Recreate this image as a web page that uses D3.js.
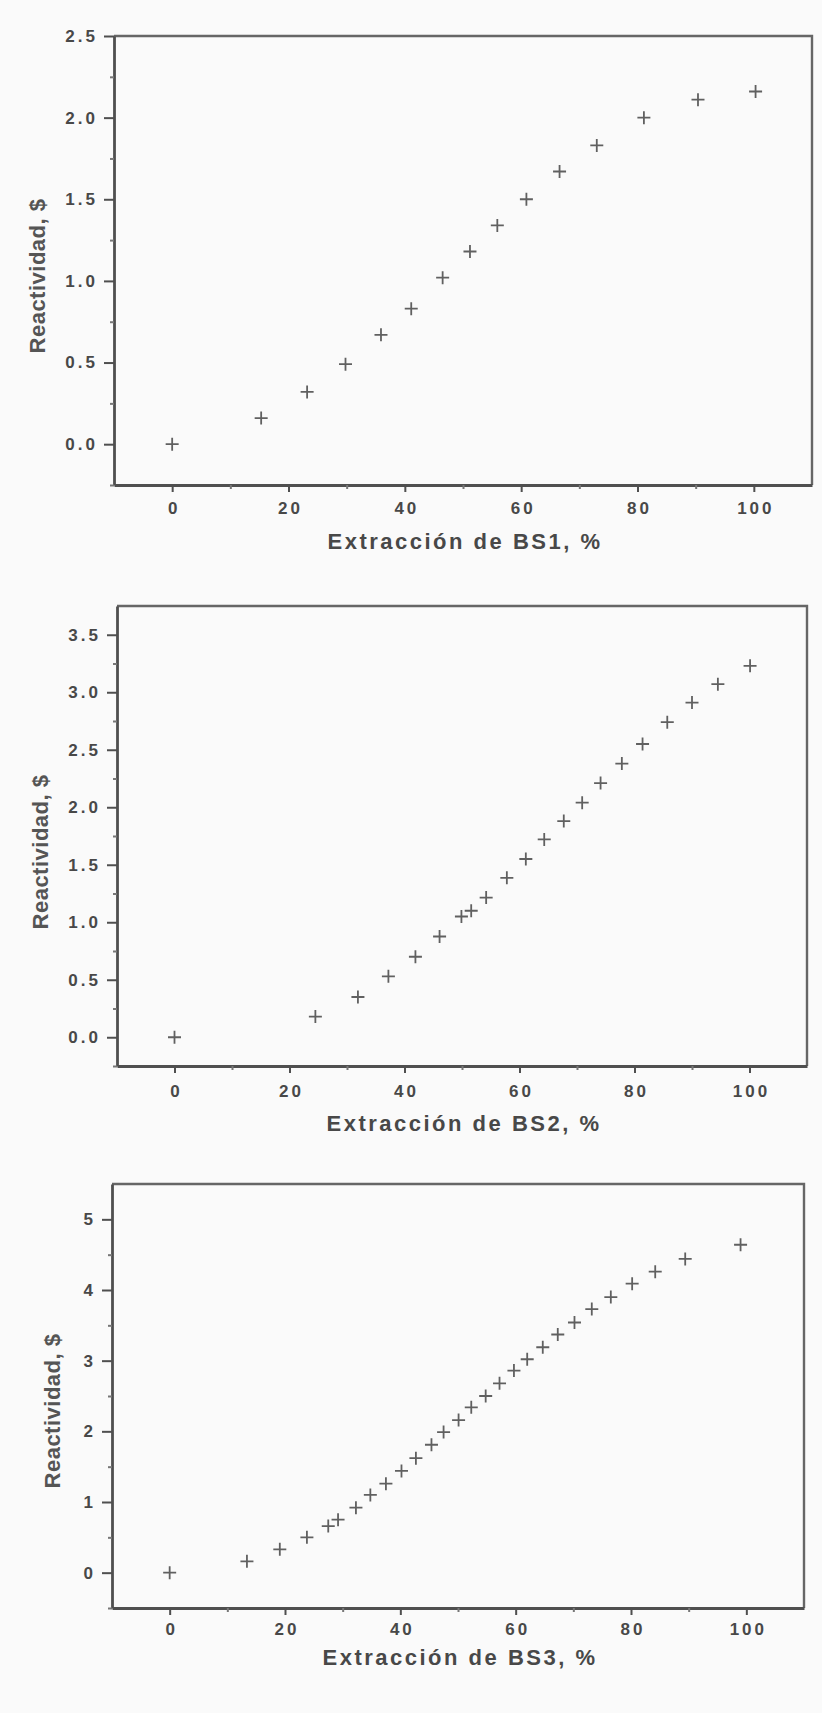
<!DOCTYPE html>
<html>
<head>
<meta charset="utf-8">
<script src="https://cdn.jsdelivr.net/npm/d3@7"></script>
<style>
  html, body { margin: 0; padding: 0; background: #fafafa; }
  svg { display: block; }
  .tick text { font-family: "Liberation Sans", Arial, sans-serif; }
</style>
</head>
<body>
<div id="chart"></div>
<script>
// data
var bs1X = [0, 15.3, 23.2, 29.8, 35.9, 41.1, 46.5, 51.2, 55.9, 60.9, 66.6, 73.0, 81.1, 90.4, 100.3];
var bs1Y = [0, 0.16, 0.32, 0.49, 0.67, 0.83, 1.02, 1.18, 1.34, 1.50, 1.67, 1.83, 2.00, 2.11, 2.16];

var bs2X = [0, 24.5, 31.9, 37.2, 41.9, 46.1, 49.9, 51.6, 54.2, 57.8, 61.1, 64.3, 67.7, 70.9, 74.1, 77.8, 81.4, 85.7, 90.0, 94.5, 100.1];
var bs2Y = [0, 0.18, 0.35, 0.53, 0.70, 0.876, 1.05, 1.10, 1.215, 1.386, 1.55, 1.72, 1.88, 2.04, 2.21, 2.38, 2.55, 2.74, 2.91, 3.07, 3.23];

var bs3X = [0, 13.4, 19.1, 23.8, 27.5, 29.2, 32.3, 34.8, 37.5, 40.2, 42.7, 45.4, 47.5, 50.1, 52.3, 54.8, 57.2, 59.7, 62.0, 64.7, 67.3, 70.2, 73.2, 76.5, 80.2, 84.2, 89.4, 99.0];
var bs3Y = [0, 0.16, 0.33, 0.50, 0.66, 0.75, 0.92, 1.10, 1.26, 1.44, 1.62, 1.81, 1.99, 2.16, 2.34, 2.50, 2.68, 2.86, 3.02, 3.19, 3.37, 3.54, 3.73, 3.90, 4.09, 4.26, 4.44, 4.64];

var xDomain = [-10, 110];
var xTicks = [0, 20, 40, 60, 80, 100];
var xMinor = [10, 30, 50, 70, 90];

var yDomain1 = [-0.25, 2.5];
var yTicks1 = [0, 0.5, 1.0, 1.5, 2.0, 2.5];
var yMinor1 = [-0.25, 0.25, 0.75, 1.25, 1.75, 2.25];

var yDomain2 = [-0.25, 3.75];
var yTicks2 = [0, 0.5, 1.0, 1.5, 2.0, 2.5, 3.0, 3.5];
var yMinor2 = [-0.25, 0.25, 0.75, 1.25, 1.75, 2.25, 2.75, 3.25];

var yDomain3 = [-0.5, 5.5];
var yTicks3 = [0, 1, 2, 3, 4, 5];
var yMinor3 = [-0.5, 0.5, 1.5, 2.5, 3.5, 4.5];

var xTitles = ["Extracción de BS1, %", "Extracción de BS2, %", "Extracción de BS3, %"];
var yTitle = "Reactividad, $";

var W = 822, H = 1713;
var axisColor = "#4f4f4f", textColor = "#484848", markColor = "#606060";
var fontFam = "'Liberation Sans', Arial, sans-serif";

var panels = [
	{ xs: bs1X, ys: bs1Y, yDomain: yDomain1, yTicks: yTicks1, yMinor: yMinor1, fmt: ".1f",
	  box: { l: 114, r: 812, t: 36, b: 485 }, titleDy: 64, labPad: 10, yLab: { x: 45, y: 276 } },
	{ xs: bs2X, ys: bs2Y, yDomain: yDomain2, yTicks: yTicks2, yMinor: yMinor2, fmt: ".1f",
	  box: { l: 117, r: 807, t: 606, b: 1066 }, titleDy: 65, labPad: 12, yLab: { x: 48, y: 852 } },
	{ xs: bs3X, ys: bs3Y, yDomain: yDomain3, yTicks: yTicks3, yMinor: yMinor3, fmt: "d",
	  box: { l: 112, r: 804, t: 1184, b: 1608 }, titleDy: 57, labPad: 8, yLab: { x: 60, y: 1411 } }
];

var svg = d3.select("#chart").append("svg").attr("width", W).attr("height", H);
svg.append("rect").attr("width", W).attr("height", H).style("fill", "#fafafa");

panels.forEach(function(p, i) {
	var b = p.box;
	var x = d3.scaleLinear().domain(xDomain).range([b.l, b.r]);
	var y = d3.scaleLinear().domain(p.yDomain).range([b.b, b.t]);
	var g = svg.append("g").attr("class", "panel");

	// top and right frame
	g.append("path").attr("d", "M" + b.l + "," + b.t + "H" + b.r + "V" + b.b)
		.style("fill", "none").style("stroke", "#666").style("stroke-width", 2.4);

	// y axis
	var yAxis = g.append("g").attr("transform", "translate(" + b.l + ",0)")
		.call(d3.axisLeft(y).tickValues(p.yTicks).tickSize(10).tickPadding(6)
			.tickFormat(d3.format(p.fmt)).tickSizeOuter(0));
	yAxis.select(".domain").style("stroke", axisColor).style("stroke-width", 2.8);
	yAxis.selectAll(".tick line").style("stroke", axisColor).style("stroke-width", 2);
	yAxis.selectAll(".tick text").style("fill", textColor).style("font-size", "17px")
		.style("font-weight", "bold").style("letter-spacing", "3px");

	g.append("g").attr("transform", "translate(" + b.l + ",0)")
		.call(d3.axisLeft(y).tickValues(p.yMinor).tickSize(4).tickFormat(""))
		.call(function(s) {
			s.select(".domain").remove();
			s.selectAll(".tick line").style("stroke", "#777").style("stroke-width", 2);
		});

	// x axis
	var xAxis = g.append("g").attr("transform", "translate(0," + b.b + ")")
		.call(d3.axisBottom(x).tickValues(xTicks).tickSize(7).tickPadding(p.labPad)
			.tickSizeOuter(0));
	xAxis.select(".domain").style("stroke", axisColor).style("stroke-width", 2.8);
	xAxis.selectAll(".tick line").style("stroke", axisColor).style("stroke-width", 2);
	xAxis.selectAll(".tick text").style("fill", textColor).style("font-size", "17px")
		.style("font-weight", "bold").style("letter-spacing", "3px")
		.attr("dx", "1.5px");

	g.append("g").attr("transform", "translate(0," + b.b + ")")
		.call(d3.axisBottom(x).tickValues(xMinor).tickSize(4).tickFormat(""))
		.call(function(s) {
			s.select(".domain").remove();
			s.selectAll(".tick line").style("stroke", "#777").style("stroke-width", 2);
		});

	// axis titles
	g.append("text").attr("x", (b.l + b.r) / 2 + 2).attr("y", b.b + p.titleDy)
		.style("text-anchor", "middle").style("font-family", fontFam)
		.style("font-size", "22px").style("font-weight", "bold").style("letter-spacing", "2.5px")
		.style("fill", textColor).text(xTitles[i]);

	g.append("text").attr("transform", "translate(" + p.yLab.x + "," + p.yLab.y + ") rotate(-90)")
		.style("text-anchor", "middle").style("font-family", fontFam)
		.style("font-size", "22px").style("font-weight", "bold").style("letter-spacing", "0.5px")
		.style("fill", "#555").text(yTitle);

	// points
	var pts = p.xs.map(function(v, k) { return { x: v, y: p.ys[k] }; });
	g.selectAll("path.pt").data(pts).enter().append("path").attr("class", "pt")
		.attr("d", "M-6.5,0H6.5M0,-6.5V6.5")
		.attr("transform", function(d) { return "translate(" + x(d.x) + "," + y(d.y) + ")"; })
		.style("fill", "none").style("stroke", markColor).style("stroke-width", 1.8);
});
</script>
</body>
</html>
